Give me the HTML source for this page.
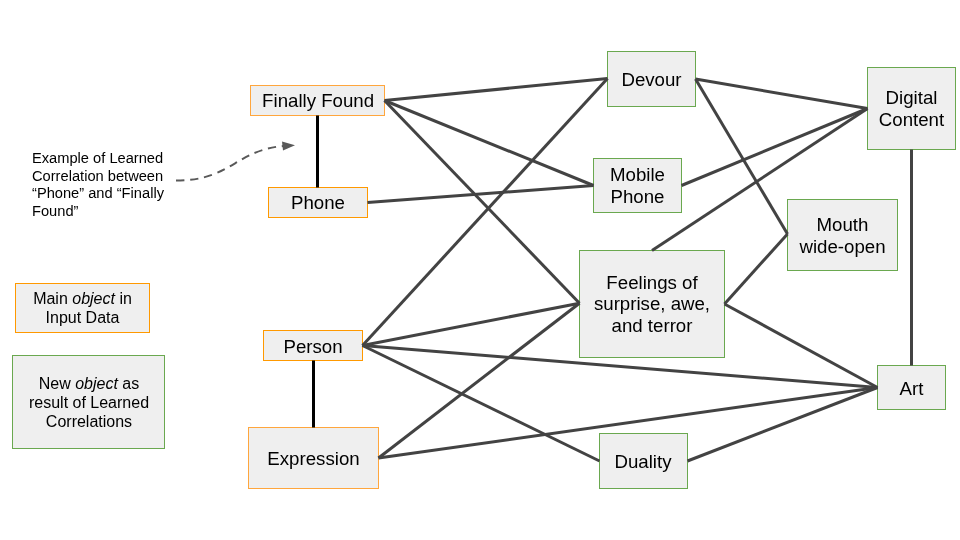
<!DOCTYPE html>
<html><head><meta charset="utf-8">
<style>
html,body{margin:0;padding:0;background:#fff;width:960px;height:540px;overflow:hidden}
svg{display:block;will-change:transform}
text{font-family:"Liberation Sans",sans-serif;fill:#000}
.n{font-size:18.67px;text-anchor:middle}
.s{font-size:14.67px}
.sc{font-size:16px;text-anchor:middle}
.o{fill:#efefef;stroke:#ffa63d;stroke-width:1}
.o2{fill:#efefef;stroke:#ff9900;stroke-width:1}
.g{fill:#efefef;stroke:#6aa84f;stroke-width:1}
.l{stroke:#434343;stroke-width:3;fill:none;stroke-linecap:butt}
.b{stroke:#000;stroke-width:3;fill:none}
</style></head><body>
<svg width="960" height="540" viewBox="0 0 960 540">
<!-- dashed arrow -->
<path d="M176,180.6 C235.5,180.6 235.5,145.5 295,145.5" stroke="#595959" stroke-width="2" fill="none" stroke-dasharray="8.3 5.8"/>
<polygon points="282,141.5 295,145.3 283,150.5" fill="#595959"/>
<!-- boxes -->
<rect class="o" x="250.5" y="85.5" width="134" height="30"/>
<rect class="o2" x="268.5" y="187.5" width="99" height="30"/>
<rect class="o2" x="263.5" y="330.5" width="99" height="30"/>
<rect class="o" x="248.5" y="427.5" width="130" height="61"/>
<rect class="o2" x="15.5" y="283.5" width="134" height="49"/>
<rect class="g" x="12.5" y="355.5" width="152" height="93"/>
<rect class="g" x="607.5" y="51.5" width="88" height="55"/>
<rect class="g" x="593.5" y="158.5" width="88" height="54"/>
<rect class="g" x="867.5" y="67.5" width="88" height="82"/>
<rect class="g" x="787.5" y="199.5" width="110" height="71"/>
<rect class="g" x="579.5" y="250.5" width="145" height="107"/>
<rect class="g" x="877.5" y="365.5" width="68" height="44"/>
<rect class="g" x="599.5" y="433.5" width="88" height="55"/>
<!-- lines -->
<g class="l">
<line x1="384.5" y1="100.5" x2="607.5" y2="78.5"/>
<line x1="384.5" y1="100.5" x2="593.5" y2="185.5"/>
<line x1="384.5" y1="100.5" x2="579.5" y2="303.2"/>
<line x1="367.5" y1="202.5" x2="593.5" y2="185.5"/>
<line x1="362.5" y1="345.5" x2="607.5" y2="78.5"/>
<line x1="695.5" y1="79" x2="867.5" y2="108.5"/>
<line x1="695.5" y1="79" x2="787.5" y2="234"/>
<line x1="681.5" y1="185.5" x2="867.5" y2="108.5"/>
<line x1="652" y1="250.5" x2="867.5" y2="108.5"/>
<line x1="724.5" y1="304" x2="787.5" y2="234"/>
<line x1="724.5" y1="304" x2="877.5" y2="387.5"/>
<line x1="362.5" y1="345.5" x2="579.5" y2="303.2"/>
<line x1="362.5" y1="345.5" x2="877.5" y2="387.5"/>
<line x1="362.5" y1="345.5" x2="599.5" y2="461"/>
<line x1="378.5" y1="458" x2="579.5" y2="303.2"/>
<line x1="378.5" y1="458" x2="877.5" y2="387.5"/>
<line x1="687.5" y1="461" x2="877.5" y2="387.5"/>
<line x1="911.5" y1="149.5" x2="911.5" y2="365.5"/>
</g>
<g class="b">
<line x1="317.5" y1="115.5" x2="317.5" y2="187.5"/>
<line x1="313.5" y1="360.5" x2="313.5" y2="427.5"/>
</g>
<!-- labels -->
<text class="n" x="318.1" y="107">Finally Found</text>
<text class="n" x="318" y="209">Phone</text>
<text class="n" x="313" y="352.75">Person</text>
<text class="n" x="313.5" y="464.8">Expression</text>
<text class="n" x="651.5" y="86">Devour</text>
<text class="n" x="637.5" y="181.4">Mobile</text>
<text class="n" x="637.5" y="202.9">Phone</text>
<text class="n" x="911.5" y="104">Digital</text>
<text class="n" x="911.5" y="125.7">Content</text>
<text class="n" x="842.5" y="230.5">Mouth</text>
<text class="n" x="842.5" y="252.5">wide-open</text>
<text class="n" x="652" y="289">Feelings of</text>
<text class="n" x="652" y="309.8">surprise, awe,</text>
<text class="n" x="652" y="332.2">and terror</text>
<text class="n" x="911.5" y="394.5">Art</text>
<text class="n" x="643" y="468">Duality</text>
<text class="sc" x="82.5" y="304">Main <tspan font-style="italic">object</tspan> in</text>
<text class="sc" x="82.5" y="322.8">Input Data</text>
<text class="sc" x="89" y="389">New <tspan font-style="italic">object</tspan> as</text>
<text class="sc" x="89" y="407.8">result of Learned</text>
<text class="sc" x="89" y="426.6">Correlations</text>
<text class="s" x="32" y="163.4">Example of Learned</text>
<text class="s" x="32" y="180.9">Correlation between</text>
<text class="s" x="32" y="198.1">“Phone” and “Finally</text>
<text class="s" x="32" y="215.6">Found”</text>
</svg>
</body></html>
